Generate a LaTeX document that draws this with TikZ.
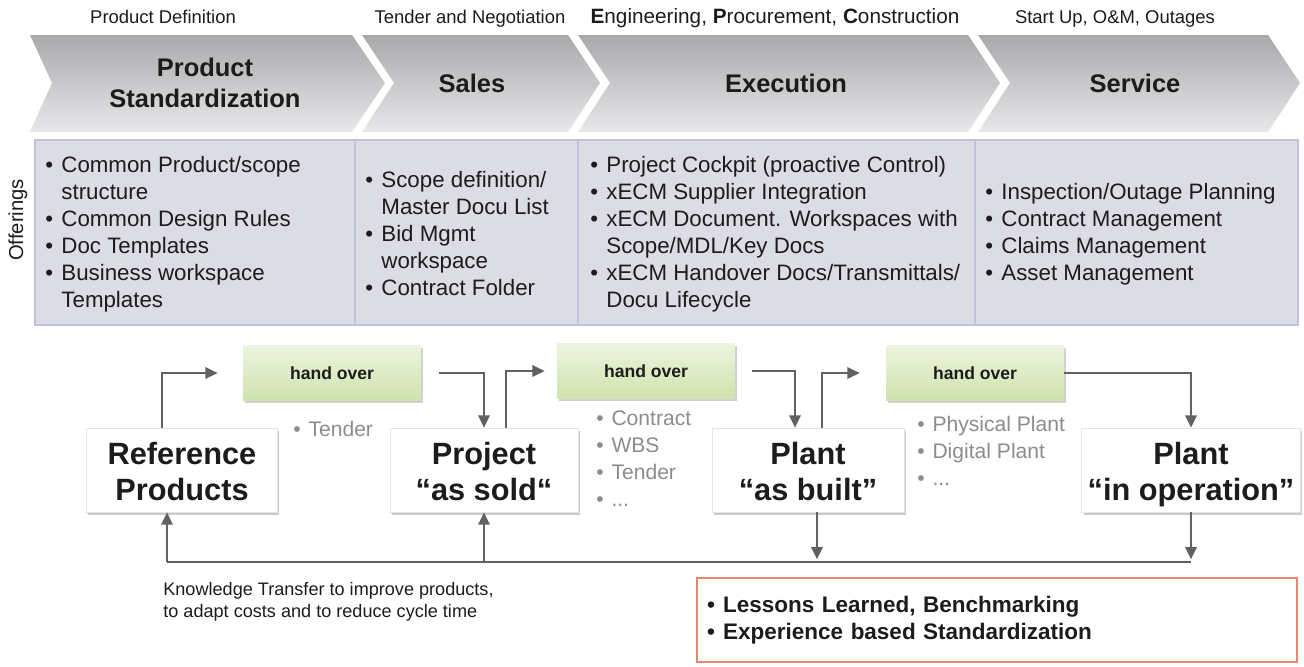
\documentclass[tikz,border=0pt]{standalone}
\usepackage{fontspec}
\setmainfont{Liberation Sans}
\usepackage{tikz}
\usetikzlibrary{arrows.meta,backgrounds,calc,shadows}
\definecolor{chevdark}{HTML}{A9A9AB}
\definecolor{chevlight}{HTML}{E8E8EA}
\definecolor{offerfill}{HTML}{DCDDE4}
\definecolor{offerline}{HTML}{C2C1DC}
\definecolor{hofill}{HTML}{CFE3AC}
\definecolor{holight}{HTML}{EDF4DF}
\definecolor{arrgray}{HTML}{616161}
\definecolor{txtgray}{HTML}{8C8C8C}
\definecolor{txtdark}{HTML}{1C1C1C}
\definecolor{lessonsline}{HTML}{E8876B}
\newcommand{\fsz}[2]{\fontsize{#1}{#2}\selectfont}
\newcommand{\bul}{\makebox[0.72em][l]{\textbullet}}
\newcommand{\ind}{\hspace*{0.72em}}
\newcommand{\topstrut}{\rule{0pt}{20.5pt}}

\begin{document}
\begin{tikzpicture}[x=0.02cm,y=-0.02cm,
  every node/.style={text=txtdark},
  chev/.style={top color=chevdark,bottom color=chevlight,draw=none},
  phase/.style={align=center,font=\fsz{10.5}{12}},
  chevtitle/.style={align=center,font=\fsz{14.5}{18}\bfseries},
  offer/.style={anchor=base west,align=left,inner sep=0pt,font=\fsz{12.7}{15.3}},
  mainbox/.style={draw=black!10,fill=white,minimum height=1.68cm,inner ysep=0pt,align=center,
    font=\fsz{17.5}{21}\bfseries,
    drop shadow={shadow xshift=1pt,shadow yshift=-1.5pt,opacity=0.35,fill=black!60}},
  hobox/.style={top color=holight,bottom color=hofill,minimum width=3.56cm,minimum height=1.1cm,
    font=\fsz{10}{12}\bfseries,
    drop shadow={shadow xshift=1pt,shadow yshift=-1.5pt,opacity=0.3,fill=black!60}},
  docs/.style={anchor=base west,align=left,inner sep=0pt,text=txtgray,font=\fsz{12}{15.3}},
  arr/.style={draw=arrgray,line width=1.2pt,-{Triangle[length=7pt,width=6.5pt]}},
  fbline/.style={draw=arrgray,line width=1.2pt}
]
\useasboundingbox (0,0) rectangle (1304,666);

\shade[chev] (30,35) -- (352,35) -- (385,83) -- (352,132) -- (30,132) -- (52,83) -- cycle;
\shade[chev] (362,35) -- (568,35) -- (600,83) -- (568,132) -- (362,132) -- (394,83) -- cycle;
\shade[chev] (578,35) -- (968,35) -- (1000,83) -- (968,132) -- (578,132) -- (610,83) -- cycle;
\shade[chev] (978,35) -- (1268,35) -- (1300,83) -- (1268,132) -- (978,132) -- (1010,83) -- cycle;

\node[phase,anchor=base] (phDef) at (163,23) {Product Definition};
\node[phase,anchor=base] (phTen) at (470,23) {Tender and Negotiation};
\node[phase,anchor=base,font=\fsz{11.8}{12}] (phEpc) at (775,23) {{\bfseries E}ngineering, {\bfseries P}rocurement, {\bfseries C}onstruction};
\node[phase,anchor=base] (phSrv) at (1115,23) {Start Up, O\&M, Outages};

\node[chevtitle] (tStd) at (205,83) {Product\\Standardization};
\node[chevtitle] (tSales) at (472,83) {Sales};
\node[chevtitle] (tExec) at (786,83) {Execution};
\node[chevtitle] (tServ) at (1135,83) {Service};

\draw[draw=offerline,fill=offerfill,line width=1pt] (35,140) rectangle (1298,325);
\draw[draw=offerline,line width=0.8pt] (355,140) -- (355,325) (578,140) -- (578,325) (975,140) -- (975,325);
\node[rotate=90,font=\fsz{11.5}{14}] (offerings) at (18,220) {Offerings};

\node[offer] (offStd) at (45,307) {\bul Common Product/scope\\\ind structure\\\bul Common Design Rules\\\bul Doc Templates\\\bul Business workspace\\\ind Templates};
\node[offer] (offSales) at (365,295) {\bul Scope definition/\\\ind Master Docu List\\\bul Bid Mgmt\\\ind workspace\\\bul Contract Folder};
\node[offer] (offExec) at (590,307) {\bul Project Cockpit (proactive Control)\\\bul xECM Supplier Integration\\\bul xECM Document. Workspaces with\\\ind Scope/MDL/Key Docs\\\bul xECM Handover Docs/Transmittals/\\\ind Docu Lifecycle};
\node[offer] (offServ) at (985,280) {\bul Inspection/Outage Planning\\\bul Contract Management\\\bul Claims Management\\\bul Asset Management};

\node[hobox] (ho1) at (332,373) {hand over};
\node[hobox] (ho2) at (646,371) {hand over};
\node[hobox] (ho3) at (975,373) {hand over};

\node[mainbox,minimum width=3.82cm] (ref) at (182,470) {\topstrut Reference\\Products\strut};
\node[mainbox,minimum width=3.76cm] (proj) at (484,470) {\topstrut Project\\“as sold“\strut};
\node[mainbox,minimum width=3.84cm] (built) at (808,470) {\topstrut Plant\\“as built”\strut};
\node[mainbox,minimum width=4.24cm] (oper) at (1191,470) {\topstrut Plant\\“in operation”\strut};

\node[docs] (docs1) at (293,436) {\bul Tender};
\node[docs] (docs2) at (596,506) {\bul Contract\\\bul WBS\\\bul Tender\\\bul ...};
\node[docs] (docs3) at (917,485) {\bul Physical Plant\\\bul Digital Plant\\\bul ...};

\draw[arr] ($(ref.north)+(-20,0)$) |- ($(ho1.west)+(-25,0)$);
\draw[arr] ($(ho1.east)+(18,0)$) -| (proj.north);
\draw[arr] ($(proj.north)+(22,0)$) |- ($(ho2.west)+(-12,0)$);
\draw[arr] ($(ho2.east)+(17,0)$) -| ($(built.north)+(-13,0)$);
\draw[arr] ($(built.north)+(14,0)$) |- ($(ho3.west)+(-26,0)$);
\draw[arr] (ho3.east) -| (oper.north);

\coordinate (fbL) at ($(ref.south)+(-15,50)$);
\coordinate (fbR) at (oper.south |- fbL);
\coordinate (fbB) at ($(built.south)+(9,0)$);
\draw[fbline] (fbL) -- (fbR);
\draw[arr] (fbL) -- (fbL |- ref.south);
\draw[arr] (proj.south |- fbL) -- (proj.south);
\draw[arr] (fbB) -- ($(fbB |- fbL)+(0,-3)$);
\draw[arr] (oper.south) -- ($(fbR)+(0,-3)$);

\node[anchor=base west,align=left,inner sep=0pt,font=\fsz{10.3}{12.5}] (knowledge) at (163,617) {Knowledge Transfer to improve products,\\to adapt costs and to reduce cycle time};

\node[draw=lessonsline,line width=1.2pt,fill=white,minimum width=12cm,minimum height=1.68cm,
  text width=11.6cm,align=left,font=\fsz{12.8}{15.3}\bfseries] (lessons) at (997,620)
  {\bul Lessons Learned, Benchmarking\\\bul Experience based Standardization};
\end{tikzpicture}
\end{document}
